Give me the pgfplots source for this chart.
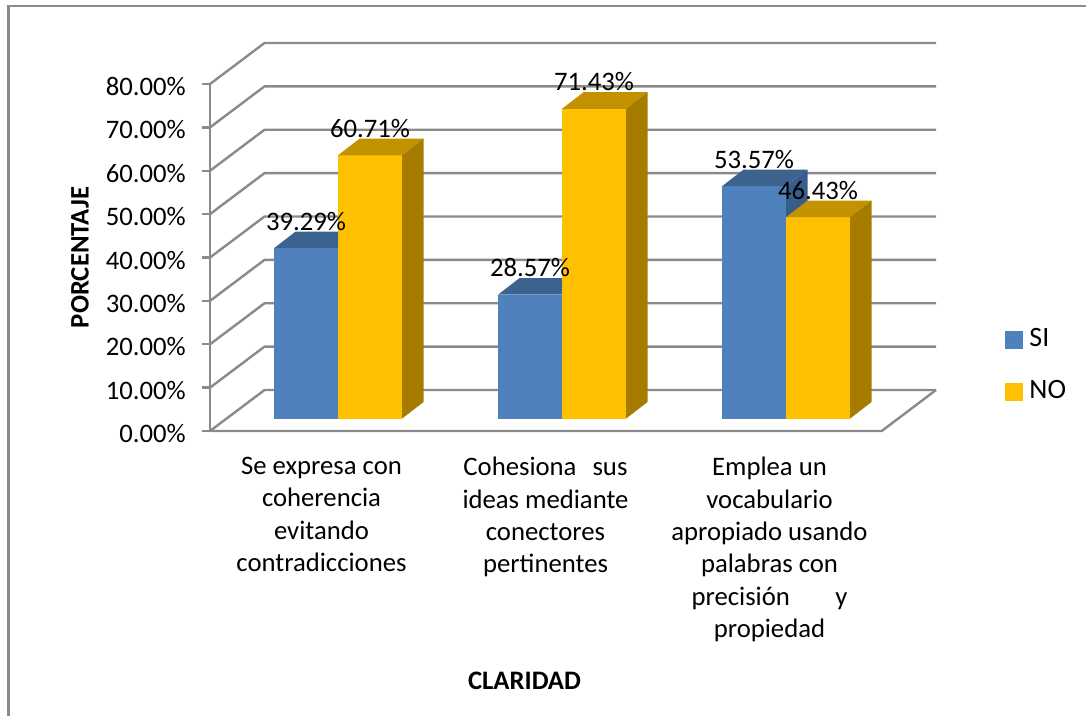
\documentclass[border=0pt]{standalone}
\usepackage{fontspec}
\setmainfont{Carlito}
\usepackage{pgfplots}
\pgfplotsset{compat=1.18}
\definecolor{gridc}{HTML}{8A8A8A}
\definecolor{sib}{HTML}{4F81BD}
\definecolor{sit}{HTML}{3C6290}
\definecolor{sis}{HTML}{385D8A}
\definecolor{nob}{HTML}{FFC000}
\definecolor{not}{HTML}{C29200}
\definecolor{nos}{HTML}{A67C00}
\begin{document}
\fontsize{26.7pt}{32.4pt}\selectfont
\begin{tikzpicture}[x=1pt,y=1pt]
\path[use as bounding box] (0,0) rectangle (1086,-716);
\draw[gridc,line width=2.4pt] (8.5,-716) -- (8.5,-6) -- (1086,-6);
% walls
\begin{axis}[
  at={(210pt,-431pt)}, anchor=south west,
  scale only axis, width=726pt, height=347pt,
  xmin=210, xmax=936, ymin=0, ymax=80,
  clip=false,
  axis lines=left,
  axis line style={-, draw=gridc, line width=2.4pt},
  x axis line style={draw=none},
  ytick={0,10,...,80},
  xtick={321.5,545.5,769.5},
  xticklabels={
    {Se expresa con\\coherencia\\evitando\\contradicciones},
    {Cohesiona\hspace{0.6em}sus\\ideas mediante\\conectores\\pertinentes},
    {Emplea un\\vocabulario\\apropiado usando\\palabras con\\precisión\hspace{1.7em}y\\propiedad}},
  tick style={draw=gridc, line width=2.4pt},
  x tick style={draw=none},
  tick align=outside,
  major tick length=8pt,
  /pgf/number format/assume math mode=true,
  yticklabel={\pgfmathprintnumber[fixed,fixed zerofill,precision=2]{\tick}\%},
  tick label style={font=\fontsize{26.7pt}{32.4pt}\selectfont},
  yticklabel style={inner sep=0pt, xshift=-16pt, yshift=-2.5pt},
  xticklabel style={align=center, anchor=north, inner sep=0pt, yshift=-18pt},
  xlabel={\fontsize{26.7pt}{30pt}\selectfont\bfseries CLARIDAD},
  ylabel={\fontsize{26.7pt}{30pt}\selectfont\bfseries PORCENTAJE},
  every axis x label/.style={at={(axis cs:524.5,-57.6)},anchor=center},
  every axis y label/.style={at={(axis cs:80,40)},anchor=center,rotate=90},
]
\addplot[gridc,line width=2.4pt] coordinates {(210,0) (881.7,0) (936,9.45)};
\addplot[gridc,line width=2.4pt] coordinates {(210,0) (264.5,9.45) (936,9.45)};
\addplot[gridc,line width=2.4pt] coordinates {(210,10) (264.5,19.45) (936,19.45)};
\addplot[gridc,line width=2.4pt] coordinates {(210,20) (264.5,29.45) (936,29.45)};
\addplot[gridc,line width=2.4pt] coordinates {(210,30) (264.5,39.45) (936,39.45)};
\addplot[gridc,line width=2.4pt] coordinates {(210,40) (264.5,49.45) (936,49.45)};
\addplot[gridc,line width=2.4pt] coordinates {(210,50) (264.5,59.45) (936,59.45)};
\addplot[gridc,line width=2.4pt] coordinates {(210,60) (264.5,69.45) (936,69.45)};
\addplot[gridc,line width=2.4pt] coordinates {(210,70) (264.5,79.45) (936,79.45)};
\addplot[gridc,line width=2.4pt] coordinates {(210,80) (264.5,89.45) (936,89.45)};
\end{axis}
% bars
\begin{axis}[
  at={(210pt,-418.6pt)}, anchor=south west,
  scale only axis, width=726pt, height=347pt,
  xmin=210, xmax=936, ymin=0, ymax=80,
  clip=false, hide axis,
  /pgf/number format/assume math mode=true,
  legend style={at={(axis cs:1005,12.2)}, anchor=west, draw=none, fill=none,
    font=\fontsize{28pt}{30pt}\selectfont, inner sep=0pt, outer sep=0pt,
    row sep=30pt, nodes={inner sep=0pt}},
  legend cell align=left,
]
% group 1
\addplot[forget plot,ybar,bar width=64pt,bar shift=0pt,fill=sib,draw=none] coordinates {(306,39.29)};
\addplot[forget plot,fill=sit,draw=none] coordinates {(274,39.29) (338,39.29) (359.5,43.11) (295.5,43.11)} --cycle;
\addplot[forget plot,ybar,bar width=64pt,bar shift=0pt,fill=nob,draw=none] coordinates {(370,60.71)};
\addplot[forget plot,fill=not,draw=none] coordinates {(338,60.71) (402,60.71) (423.5,64.53) (359.5,64.53)} --cycle;
\addplot[forget plot,fill=nos,draw=none] coordinates {(402,0) (402,60.71) (423.5,64.53) (423.5,3.82)} --cycle;
% group 2
\addplot[forget plot,ybar,bar width=64pt,bar shift=0pt,fill=sib,draw=none] coordinates {(530,28.57)};
\addplot[forget plot,fill=sit,draw=none] coordinates {(498,28.57) (562,28.57) (583.5,32.39) (519.5,32.39)} --cycle;
\addplot[forget plot,ybar,bar width=64pt,bar shift=0pt,fill=nob,draw=none] coordinates {(594,71.43)};
\addplot[forget plot,fill=not,draw=none] coordinates {(562,71.43) (626,71.43) (647.5,75.25) (583.5,75.25)} --cycle;
\addplot[forget plot,fill=nos,draw=none] coordinates {(626,0) (626,71.43) (647.5,75.25) (647.5,3.82)} --cycle;
% group 3
\addplot[forget plot,fill=sis,draw=none] coordinates {(786,53.57) (807.5,57.39) (807.5,50) (786,46)} --cycle;
\addplot[forget plot,ybar,bar width=64pt,bar shift=0pt,fill=sib,draw=none] coordinates {(754,53.57)};
\addplot[forget plot,fill=sit,draw=none] coordinates {(722,53.57) (786,53.57) (807.5,57.39) (743.5,57.39)} --cycle;
\addplot[forget plot,ybar,bar width=64pt,bar shift=0pt,fill=nob,draw=none] coordinates {(818,46.43)};
\addplot[forget plot,fill=not,draw=none] coordinates {(786,46.43) (850,46.43) (871.5,50.25) (807.5,50.25)} --cycle;
\addplot[forget plot,fill=nos,draw=none] coordinates {(850,0) (850,46.43) (871.5,50.25) (871.5,3.82)} --cycle;
% data labels
\addplot[forget plot,draw=none,mark=none,point meta=y,
  nodes near coords={\pgfmathprintnumber[fixed,fixed zerofill,precision=2]{\pgfplotspointmeta}\%},
  every node near coord/.append style={anchor=center,yshift=27pt,inner sep=0pt,
    font=\fontsize{26.7pt}{30pt}\selectfont,text=black}]
  coordinates {(306,39.29) (370,60.71) (530,28.57) (594,71.43) (754,53.57) (818,46.43)};
\addlegendimage{legend image code/.code={\fill[sib] (0pt,-8.5pt) rectangle (17pt,8.5pt); \path (24pt,0pt);}}
\addlegendimage{legend image code/.code={\fill[nob] (0pt,-8.5pt) rectangle (17pt,8.5pt); \path (24pt,0pt);}}
\legend{SI,NO}
\end{axis}
\end{tikzpicture}
\end{document}
